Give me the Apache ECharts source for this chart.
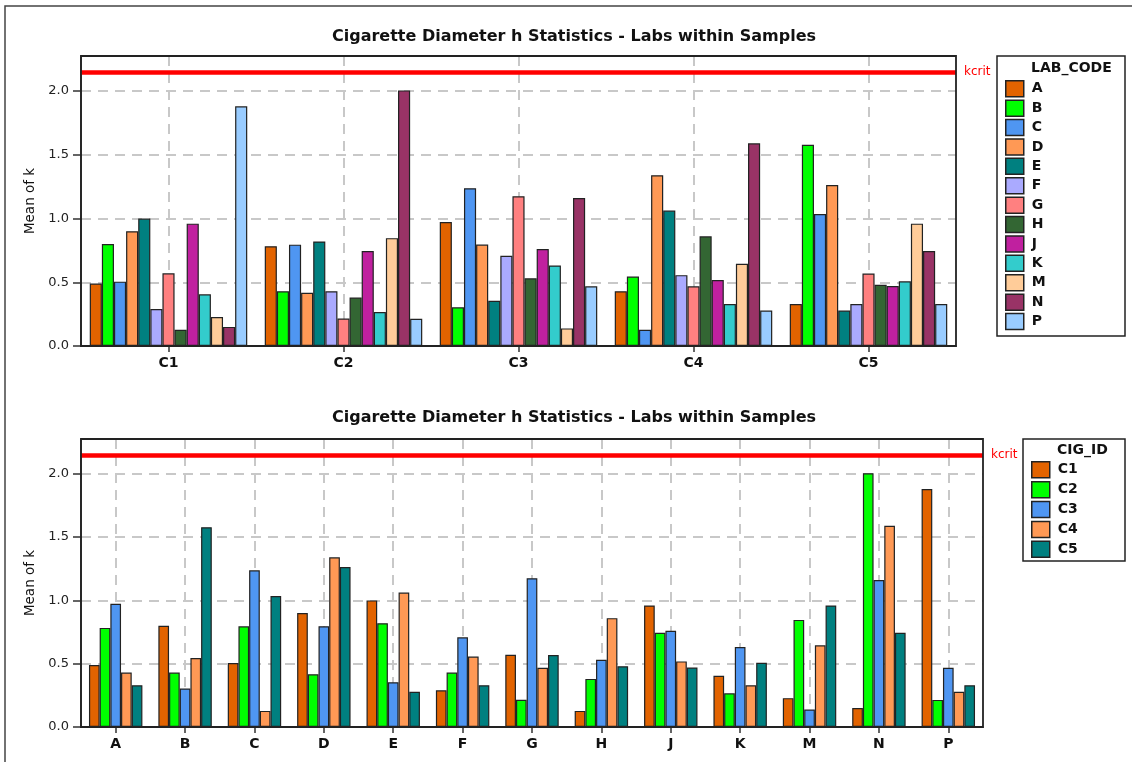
<!DOCTYPE html>
<html>
<head>
<meta charset="utf-8">
<script src="https://cdn.jsdelivr.net/npm/echarts@6/dist/echarts.min.js"></script>
<style>
html,body{margin:0;padding:0;background:#fff;}
#chart{width:1132px;height:762px;}
</style>
</head>
<body>
<div id="chart"></div>
<script>
// ---- data ----
const titleText = 'Cigarette Diameter h Statistics - Labs within Samples';
const cigIds = ['C1', 'C2', 'C3', 'C4', 'C5'];
const labCodes = ['A', 'B', 'C', 'D', 'E', 'F', 'G', 'H', 'J', 'K', 'M', 'N', 'P'];
// mean of k for each lab (in labCodes order), one array per cigarette sample
const c1 = [0.49, 0.80, 0.505, 0.90, 1.00, 0.29, 0.57, 0.127, 0.96, 0.405, 0.228, 0.15, 1.88];
const c2 = [0.783, 0.43, 0.795, 0.417, 0.82, 0.43, 0.215, 0.38, 0.745, 0.266, 0.846, 2.005, 0.214];
const c3 = [0.973, 0.304, 1.238, 0.796, 0.354, 0.708, 1.175, 0.531, 0.76, 0.632, 0.138, 1.161, 0.468];
const c4 = [0.43, 0.545, 0.127, 1.34, 1.062, 0.556, 0.468, 0.86, 0.518, 0.33, 0.645, 1.59, 0.278];
const c5 = [0.33, 1.578, 1.035, 1.263, 0.278, 0.33, 0.569, 0.48, 0.47, 0.507, 0.96, 0.745, 0.33];
const kcrit = 2.15;
const yTickValues = [0, 0.5, 1.0, 1.5, 2.0];
const yAxisName = 'Mean of k';

const labColors = ['#E26300', '#00FF00', '#4F96F2', '#FF9955', '#008080', '#AAAAFF', '#FF8080',
  '#336633', '#C0209F', '#33CCCC', '#FFCC99', '#993366', '#99CCFF'];
const cigColors = ['#E26300', '#00FF00', '#4F96F2', '#FF9955', '#008080'];

const cigData = [c1, c2, c3, c4, c5];
const FONT = 'DejaVu Sans';

function yAxisCfg(gridIndex) {
  return {
    type: 'value', gridIndex: gridIndex, min: 0, max: 2.275, interval: 0.5,
    name: yAxisName, nameLocation: 'middle', nameGap: 44,
    nameTextStyle: {fontFamily: FONT, fontSize: 13.5, color: '#111'},
    axisLine: {show: true, lineStyle: {color: '#333', width: 1.5}},
    axisTick: {show: true, length: 8, customValues: yTickValues, lineStyle: {color: '#333', width: 1.5}},
    axisLabel: {fontFamily: FONT, fontSize: 13, color: '#222', margin: 12, customValues: yTickValues,
      formatter: v => Number(v).toFixed(1)},
    splitLine: {show: true, customValues: yTickValues, lineStyle: {color: '#c8c8c8', width: 2, type: [10, 7]}}
  };
}
function xAxisCfg(gridIndex, cats) {
  return {
    type: 'category', gridIndex: gridIndex, data: cats,
    axisLine: {show: true, lineStyle: {color: '#333', width: 1.5}},
    axisTick: {show: true, alignWithLabel: true, length: 6, lineStyle: {color: '#333', width: 1.5}},
    axisLabel: {fontFamily: FONT, fontSize: 14, fontWeight: 'bold', color: '#111', margin: 10, interval: 0},
    splitLine: {show: true, alignWithLabel: true, interval: 0,
      lineStyle: {color: '#c8c8c8', width: 2, type: [10, 7]}}
  };
}
function kcritLine() {
  return {
    silent: true, symbol: 'none',
    lineStyle: {color: '#ff0000', width: 4.5, type: 'solid'},
    label: {show: true, position: 'end', formatter: 'kcrit', color: '#ff0000',
      fontFamily: FONT, fontSize: 12, distance: 8},
    data: [{yAxis: kcrit}]
  };
}

const series = [];
labCodes.forEach((lab, li) => {
  series.push({
    name: lab, type: 'bar', xAxisIndex: 0, yAxisIndex: 0,
    data: cigData.map(arr => arr[li]),
    barGap: '0%', barCategoryGap: '10%',
    itemStyle: {color: labColors[li], borderColor: '#222', borderWidth: 1.2},
    markLine: li === 0 ? kcritLine() : undefined
  });
});
cigIds.forEach((cig, ci) => {
  series.push({
    name: cig, type: 'bar', xAxisIndex: 1, yAxisIndex: 1,
    data: cigData[ci].slice(),
    barGap: '0%', barCategoryGap: '23%',
    itemStyle: {color: cigColors[ci], borderColor: '#222', borderWidth: 1.2},
    markLine: ci === 0 ? kcritLine() : undefined
  });
});

const grids = [
  {left: 81, top: 56, width: 875, height: 290},
  {left: 81, top: 439, width: 902, height: 288}
];

const chart = echarts.init(document.getElementById('chart'), null, {renderer: 'canvas'});
chart.setOption({
  backgroundColor: '#fff',
  animation: false,
  title: [
    {text: titleText, left: 569, top: 24, textAlign: 'center',
      textStyle: {fontFamily: FONT, fontSize: 16, fontWeight: 'bold', color: '#111'}},
    {text: titleText, left: 569, top: 405, textAlign: 'center',
      textStyle: {fontFamily: FONT, fontSize: 16, fontWeight: 'bold', color: '#111'}}
  ],
  grid: grids.map(g => Object.assign({show: false, containLabel: false}, g)),
  xAxis: [xAxisCfg(0, cigIds), xAxisCfg(1, labCodes)],
  yAxis: [yAxisCfg(0), yAxisCfg(1)],
  legend: [
    {data: labCodes, orient: 'vertical', left: 1005, top: 80, padding: 0, itemGap: 1.9,
      icon: 'rect', itemWidth: 18, itemHeight: 16, selectedMode: false,
      itemStyle: {borderColor: '#222', borderWidth: 1.5},
      textStyle: {fontFamily: FONT, fontSize: 14, fontWeight: 'bold', color: '#111', padding: [0, 0, 0, 3]}},
    {data: cigIds, orient: 'vertical', left: 1031, top: 461, padding: 0, itemGap: 2.4,
      icon: 'rect', itemWidth: 18, itemHeight: 16, selectedMode: false,
      itemStyle: {borderColor: '#222', borderWidth: 1.5},
      textStyle: {fontFamily: FONT, fontSize: 14, fontWeight: 'bold', color: '#111', padding: [0, 0, 0, 3]}}
  ],
  graphic: [
    {type: 'rect', silent: true, z: -1,
      shape: {x: 5, y: 6, width: 1150, height: 800},
      style: {fill: 'none', stroke: '#444', lineWidth: 1.5}},
    {type: 'rect', silent: true, z: 100,
      shape: {x: grids[0].left, y: grids[0].top, width: grids[0].width, height: grids[0].height},
      style: {fill: 'none', stroke: '#222', lineWidth: 1.8}},
    {type: 'rect', silent: true, z: 100,
      shape: {x: grids[1].left, y: grids[1].top, width: grids[1].width, height: grids[1].height},
      style: {fill: 'none', stroke: '#222', lineWidth: 1.8}},
    {type: 'rect', silent: true,
      shape: {x: 997, y: 56, width: 128, height: 280},
      style: {fill: 'none', stroke: '#222', lineWidth: 1.5}},
    {type: 'text', silent: true, x: 1031, y: 61,
      style: {text: 'LAB_CODE', fontFamily: FONT, fontSize: 14, fontWeight: 'bold', fill: '#111'}},
    {type: 'rect', silent: true,
      shape: {x: 1023, y: 439, width: 102, height: 122},
      style: {fill: 'none', stroke: '#222', lineWidth: 1.5}},
    {type: 'text', silent: true, x: 1057, y: 443,
      style: {text: 'CIG_ID', fontFamily: FONT, fontSize: 14, fontWeight: 'bold', fill: '#111'}}
  ],
  series: series
});
</script>
</body>
</html>
